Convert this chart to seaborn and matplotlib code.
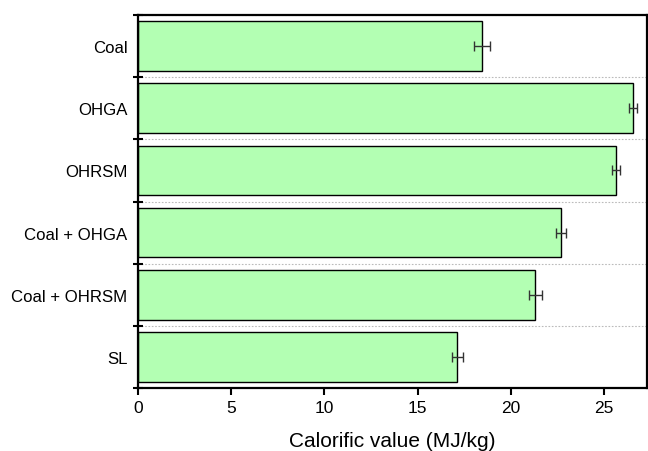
import numpy as np
import pandas as pd
import matplotlib
matplotlib.use("Agg")
import matplotlib.pyplot as plt
import seaborn as sns
from matplotlib.ticker import FixedLocator

samples = ["Coal", "OHGA", "OHRSM", "Coal + OHGA", "Coal + OHRSM", "SL"]
calorific = [18.45, 26.55, 25.65, 22.70, 21.30, 17.12]
calorific_err = [0.43, 0.24, 0.21, 0.27, 0.35, 0.30]
x_ticks = [0, 5, 10, 15, 20, 25]

df = pd.DataFrame({"sample": samples, "value": calorific})

sns.set_theme(style="white")
plt.rcParams["font.family"] = ["Liberation Sans", "DejaVu Sans"]

fig = plt.figure(figsize=(6.48, 4.52), dpi=100)
ax = fig.add_axes([138 / 648, 1 - 389 / 452, (647 - 138) / 648, (389 - 16) / 452])

sns.barplot(data=df, y="sample", x="value", orient="h", ax=ax,
            color="#b3ffb3", saturation=1, width=0.8,
            edgecolor="black", linewidth=1.0, errorbar=None)

ax.errorbar(calorific, np.arange(len(samples)), xerr=calorific_err,
            fmt="none", ecolor="#333333", elinewidth=1.0, capsize=3.5,
            capthick=1.0, zorder=5)

ax.set_xlim(0, 27.3)
ax.set_ylim(len(samples) - 0.5, -0.5)
ax.set_xticks(x_ticks)
ax.set_xticklabels([str(t) for t in x_ticks])
ax.tick_params(axis="both", labelcolor="black")
ax.tick_params(axis="x", labelsize=12.5)
ax.tick_params(axis="y", which="major", length=0, labelsize=12.1, pad=7.5)
ax.yaxis.set_minor_locator(FixedLocator(np.arange(-0.5, len(samples), 1.0)))
ax.tick_params(axis="y", which="minor", direction="inout", length=7, width=1.5,
               color="black", left=True)
ax.tick_params(axis="x", which="major", direction="out", length=5, width=1.5,
               color="black", bottom=True, pad=4)

ax.grid(False)
ax.grid(True, which="minor", axis="y", color="#bbbbbb", linestyle=(0, (1.5, 1.5)),
        linewidth=0.8)
ax.set_axisbelow(True)

for side in ["left", "right", "top", "bottom"]:
    ax.spines[side].set_visible(True)
    ax.spines[side].set_color("black")
    ax.spines[side].set_linewidth(1.6)

ax.set_ylabel("")
ax.set_xlabel("Calorific value (MJ/kg)", fontsize=15, labelpad=11, color="black")

fig.savefig("out.png", dpi=100)
